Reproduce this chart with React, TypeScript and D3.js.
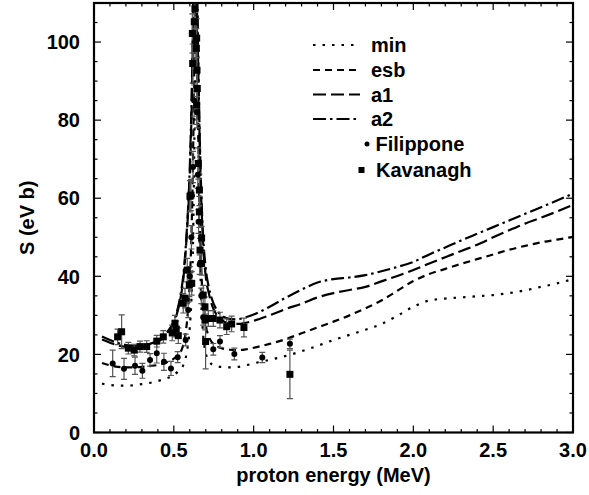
import React from "react";
import * as d3 from "d3";

// ---------- data ----------
const minCurve: [number, number][] = [
  [0.05,12.5],[0.1,12.2],[0.15,12.0],[0.2,12.0],[0.25,12.1],[0.3,12.4],[0.35,12.7],[0.4,13.2],[0.45,13.8],[0.5,14.7],[0.53,15.8],[0.56,17.3],[0.58,20.3],[0.6,27],[0.61,34],[0.62,48],[0.63,80],[0.635,104],[0.64,118],[0.645,110],[0.65,90],[0.66,55],[0.67,36],[0.68,27],[0.69,22.5],[0.7,20.3],[0.72,18.3],[0.75,17.2],[0.8,16.8],[0.85,16.7],[0.9,16.8],[0.95,17.2],[1.0,17.7],[1.1,18.6],[1.2,19.6],[1.3,20.8],[1.4,22.2],[1.5,23.7],[1.6,25.0],[1.7,26.3],[1.8,27.8],[1.9,29.9],[2.0,32.2],[2.1,33.8],[2.2,34.3],[2.3,34.6],[2.4,34.9],[2.5,35.2],[2.6,35.7],[2.7,36.4],[2.8,37.3],[2.9,38.2],[3.0,39.3]
];
const esbCurve: [number, number][] = [
  [0.05,17.8],[0.1,17.2],[0.15,16.8],[0.2,16.7],[0.25,16.7],[0.3,16.8],[0.35,17.0],[0.4,17.3],[0.45,17.9],[0.5,18.9],[0.53,20.0],[0.55,21.3],[0.57,24.5],[0.59,32],[0.6,39],[0.61,50],[0.62,70],[0.63,100],[0.635,116],[0.64,112],[0.65,85],[0.66,60],[0.67,44],[0.68,35],[0.7,27.5],[0.72,24.5],[0.75,22.6],[0.8,21.6],[0.85,21.2],[0.9,21.1],[0.95,21.3],[1.0,21.7],[1.1,22.7],[1.2,23.9],[1.3,25.4],[1.4,26.9],[1.5,28.4],[1.6,30.0],[1.7,31.8],[1.8,33.8],[1.9,36.3],[2.0,38.8],[2.1,40.6],[2.2,41.9],[2.3,43.2],[2.4,44.4],[2.5,45.6],[2.6,46.8],[2.7,47.8],[2.8,48.7],[2.9,49.4],[3.0,50.1]
];
const a1Curve: [number, number][] = [
  [0.05,23.8],[0.1,23.0],[0.15,22.3],[0.2,21.9],[0.25,21.8],[0.3,21.9],[0.35,22.3],[0.4,23.2],[0.45,24.9],[0.5,28.0],[0.52,30.5],[0.54,34.0],[0.56,39.5],[0.58,50],[0.6,66],[0.61,80],[0.62,102],[0.63,128],[0.64,125],[0.65,100],[0.66,78],[0.67,62],[0.68,51],[0.7,40],[0.72,35.5],[0.74,32.5],[0.77,30],[0.8,28.8],[0.85,27.9],[0.9,27.8],[0.95,28.1],[1.0,28.6],[1.1,30.0],[1.2,31.6],[1.3,33.0],[1.4,34.6],[1.5,35.7],[1.6,36.5],[1.7,37.3],[1.8,38.7],[1.9,40.1],[2.0,41.6],[2.1,43.3],[2.2,44.9],[2.3,46.5],[2.4,48.1],[2.5,50.0],[2.6,51.8],[2.7,53.5],[2.8,55.0],[2.9,56.6],[3.0,58.3]
];
const a2Curve: [number, number][] = [
  [0.05,24.6],[0.1,23.7],[0.15,22.9],[0.2,22.4],[0.25,22.2],[0.3,22.3],[0.35,22.7],[0.4,23.6],[0.45,25.3],[0.5,28.5],[0.52,31],[0.54,34.8],[0.56,40.5],[0.58,51],[0.6,68],[0.61,83],[0.62,105],[0.63,132],[0.64,128],[0.65,103],[0.66,80],[0.67,64],[0.68,53],[0.7,42],[0.72,37],[0.74,34],[0.77,31.3],[0.8,30.0],[0.85,29.1],[0.9,29.0],[0.95,29.5],[1.0,30.2],[1.1,32.2],[1.2,34.5],[1.3,36.6],[1.4,38.4],[1.5,39.3],[1.6,39.7],[1.7,40.3],[1.8,41.3],[1.9,42.4],[2.0,43.7],[2.1,45.6],[2.2,47.4],[2.3,49.2],[2.4,50.9],[2.5,52.6],[2.6,54.3],[2.7,56.0],[2.8,57.7],[2.9,59.4],[3.0,61.2]
];
// [energy, S, error]
const filippone: [number, number, number][] = [
  [0.117,17.7,3.4],[0.188,16.3,2.7],[0.257,17.1,2.2],[0.303,15.8,1.9],[0.351,18.6,1.6],[0.393,20.3,2.5],[0.438,18.1,2.2],[0.482,16.4,1.8],[0.524,19.3,1.4],[0.574,23.7,1.5],[0.59,31.4,2],[0.6,40,2.5],[0.61,50,3],[0.62,68,4],[0.627,85,4],[0.633,100,5],[0.645,82,4],[0.65,66,3.5],[0.655,54,3],[0.662,43,2.5],[0.672,35,2],[0.684,29.5,2],[0.747,21.3,1.5],[0.789,23.3,1.5],[0.879,20.1,1.5],[1.054,19.2,1.3],[1.227,22.7,1.2]
];
const kavanagh: [number, number, number][] = [
  [0.148,24.5,2],[0.173,25.8,4.3],[0.215,21.6,1.5],[0.252,21.1,1.5],[0.288,22.0,1.4],[0.33,22.0,1.5],[0.393,23.4,1.5],[0.434,24.5,1.6],[0.49,25.5,2],[0.507,28.0,2],[0.515,26.5,2],[0.528,24.8,2],[0.559,33.1,2.5],[0.57,34.4,2.5],[0.584,41.6,3],[0.597,37.8,3],[0.601,60.5,4],[0.607,60.8,4],[0.612,38.2,3],[0.616,102.2,5],[0.618,94.5,5],[0.628,105.2,5],[0.632,108.5,5],[0.643,101,5],[0.641,98.4,5],[0.645,92.8,5],[0.647,88.1,5],[0.643,83.9,5],[0.653,68.9,4],[0.66,62.1,4],[0.66,56.5,4],[0.664,46.7,3],[0.674,49.8,3],[0.674,43.3,3],[0.684,35.2,2.5],[0.695,32.2,2.5],[0.695,28.8,2.5],[0.699,23.3,7],[0.716,29.2,2],[0.747,29.2,2],[0.789,28.8,2],[0.831,27.1,2],[0.862,27.8,2],[0.939,26.9,2.4],[1.227,14.9,6.2]
];
const xTickLabels = ["0.0", "0.5", "1.0", "1.5", "2.0", "2.5", "3.0"];
const yTickLabels = ["0", "20", "40", "60", "80", "100"];

// ---------- layout ----------
const W = 589, H = 495;
const L = 94, R = 573, T = 3, B = 432.5;
const FONT = "'Liberation Sans', Arial, Helvetica, sans-serif";

const x = d3.scaleLinear().domain([0, 3]).range([L, R]);
const y = d3.scaleLinear().domain([0, 110]).range([B, T]);

const line = d3.line<[number, number]>()
  .x(d => x(d[0]))
  .y(d => y(d[1]))
  .curve(d3.curveMonotoneX);

const styles = [
  { name: "min", data: minCurve, dash: "2.5,7" },
  { name: "esb", data: esbCurve, dash: "7,5" },
  { name: "a1", data: a1Curve, dash: "13,5" },
  { name: "a2", data: a2Curve, dash: "13,4,2.5,4" },
];

export default function App() {
  const xMinor = d3.range(0, 31).map(i => i / 10);
  const yMinor = d3.range(0, 23).map(i => i * 5);
  const errColor = "#555";
  return (
    <svg width={W} height={H} style={{ position: "absolute", left: 0, top: 0, background: "#fff" }}
      fontFamily={FONT} fontWeight="bold">
      <defs>
        <clipPath id="plot">
          <rect x={L} y={T} width={R - L} height={B - T} />
        </clipPath>
      </defs>
      <rect x={0} y={0} width={W} height={H} fill="#fff" />

      {/* curves */}
      <g clipPath="url(#plot)" fill="none" stroke="#000" strokeWidth={2.2}>
        {styles.map(s => (
          <path key={s.name} d={line(s.data) || ""} strokeDasharray={s.dash} />
        ))}
      </g>

      {/* data */}
      <g clipPath="url(#plot)">
        {filippone.map((d, i) => (
          <g key={"fe" + i} stroke={errColor} strokeWidth={1.2}>
            <line x1={x(d[0])} x2={x(d[0])} y1={y(d[1] - d[2])} y2={y(d[1] + d[2])} />
            <line x1={x(d[0]) - 3} x2={x(d[0]) + 3} y1={y(d[1] - d[2])} y2={y(d[1] - d[2])} />
            <line x1={x(d[0]) - 3} x2={x(d[0]) + 3} y1={y(d[1] + d[2])} y2={y(d[1] + d[2])} />
          </g>
        ))}
        {kavanagh.map((d, i) => (
          <g key={"ke" + i} stroke={errColor} strokeWidth={1.2}>
            <line x1={x(d[0])} x2={x(d[0])} y1={y(d[1] - d[2])} y2={y(d[1] + d[2])} />
            <line x1={x(d[0]) - 3} x2={x(d[0]) + 3} y1={y(d[1] - d[2])} y2={y(d[1] - d[2])} />
            <line x1={x(d[0]) - 3} x2={x(d[0]) + 3} y1={y(d[1] + d[2])} y2={y(d[1] + d[2])} />
          </g>
        ))}
        {filippone.map((d, i) => (
          <circle key={"f" + i} cx={x(d[0])} cy={y(d[1])} r={3} fill="#000" />
        ))}
        {kavanagh.map((d, i) => (
          <rect key={"k" + i} x={x(d[0]) - 3.5} y={y(d[1]) - 3.5} width={7} height={7} fill="#000" />
        ))}
      </g>

      {/* ticks */}
      <g stroke="#000" strokeWidth={1.2}>
        {xMinor.map((v, i) => {
          const len = i % 5 === 0 ? 7 : 3.5;
          return (
            <g key={"xt" + i}>
              <line x1={x(v)} x2={x(v)} y1={B} y2={B - len} />
              <line x1={x(v)} x2={x(v)} y1={T} y2={T + len} />
            </g>
          );
        })}
        {yMinor.map((v, i) => {
          const len = i % 4 === 0 ? 7 : 3.5;
          return (
            <g key={"yt" + i}>
              <line x1={L} x2={L + len} y1={y(v)} y2={y(v)} />
              <line x1={R} x2={R - len} y1={y(v)} y2={y(v)} />
            </g>
          );
        })}
      </g>

      {/* frame */}
      <rect x={L} y={T} width={R - L} height={B - T} fill="none" stroke="#000" strokeWidth={2.2} />

      {/* tick labels */}
      <g fontSize={20} fill="#000">
        {xTickLabels.map(t => (
          <text key={"xl" + t} x={x(+t)} y={457} textAnchor="middle">{t}</text>
        ))}
        {yTickLabels.map(t => (
          <text key={"yl" + t} x={80} y={y(+t)} dy="0.36em" textAnchor="end">{t}</text>
        ))}
      </g>

      {/* axis titles */}
      <text x={(L + R) / 2} y={482} textAnchor="middle" fontSize={20}>proton energy (MeV)</text>
      <text transform={`translate(34,${(T + B) / 2}) rotate(-90)`} textAnchor="middle" fontSize={20}>S (eV b)</text>

      {/* legend */}
      <g fontSize={20}>
        {styles.map((s, i) => {
          const yy = [45, 70, 94.5, 119][i];
          return (
            <g key={"lg" + s.name}>
              <line x1={313} x2={360} y1={yy} y2={yy} stroke="#000" strokeWidth={2.2} strokeDasharray={s.dash} />
              <text x={371} y={yy} dy="0.36em">{s.name}</text>
            </g>
          );
        })}
        <circle cx={367} cy={144} r={2.5} fill="#000" />
        <text x={375.5} y={144} dy="0.36em">Filippone</text>
        <rect x={358.5} y={167} width={6} height={6} fill="#000" />
        <text x={376} y={170} dy="0.36em">Kavanagh</text>
      </g>
    </svg>
  );
}
